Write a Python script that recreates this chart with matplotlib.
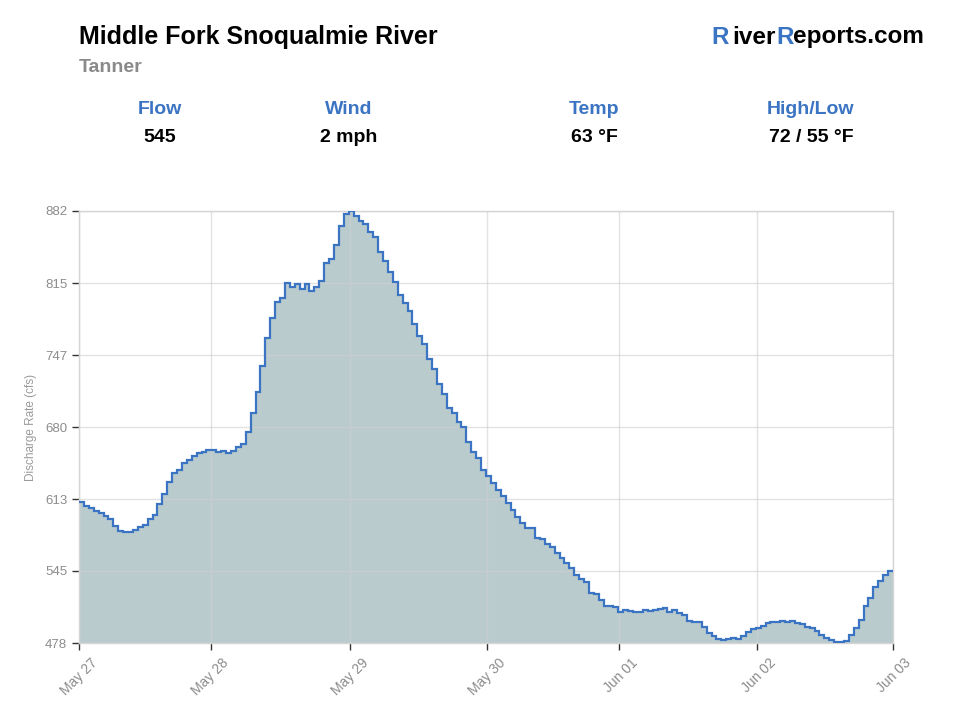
import matplotlib
matplotlib.use('Agg')
import matplotlib.pyplot as plt
import matplotlib.transforms as mtransforms
import numpy as np

plt.rcParams['font.family'] = ['Liberation Sans', 'DejaVu Sans']

# hourly discharge readings (cfs), May 27 -> Jun 03
flow = [609.6, 606.4, 604.3, 601.4, 599.3, 597.0, 594.3, 587.7, 582.7, 582.0,
        582.0, 583.7, 586.8, 588.6, 594.0, 597.5, 608.0, 617.0, 628.5, 637.3,
        639.8, 646.0, 649.1, 652.9, 656.0, 656.9, 658.5, 658.5, 656.9, 657.5,
        655.4, 658.0, 661.0, 664.1, 675.6, 693.4, 713.0, 737.4, 763.6, 782.3,
        796.6, 800.4, 814.4, 811.2, 813.7, 808.7, 813.7, 807.2, 810.6, 816.5,
        833.1, 836.8, 850.5, 868.3, 879.0, 882.0, 877.3, 873.0, 869.9, 862.1,
        857.4, 844.0, 835.2, 825.3, 815.9, 803.4, 795.7, 788.8, 776.0, 765.4,
        757.3, 743.3, 734.2, 720.0, 710.9, 698.1, 692.8, 684.5, 680.0, 666.3,
        656.9, 650.7, 639.8, 634.2, 628.0, 621.1, 615.5, 608.6, 602.4, 596.1,
        590.5, 585.7, 585.7, 576.6, 575.0, 570.9, 567.8, 561.9, 557.2, 552.5,
        547.8, 541.6, 537.9, 535.4, 524.5, 523.8, 518.2, 512.6, 512.6, 511.4,
        506.7, 508.9, 507.6, 507.3, 507.0, 508.9, 508.2, 508.9, 509.8, 511.0,
        506.7, 508.9, 506.4, 504.2, 498.9, 497.9, 497.9, 493.2, 487.6, 484.5,
        481.7, 480.8, 481.7, 482.7, 481.7, 484.5, 488.6, 491.1, 491.7, 494.2,
        496.5, 498.0, 497.5, 498.9, 497.9, 498.9, 497.0, 495.5, 493.3, 491.7,
        489.2, 485.5, 483.0, 480.8, 479.2, 479.2, 479.9, 485.5, 491.7, 499.5,
        512.9, 519.8, 530.7, 536.3, 541.6, 545.0]

total_hours = 168
tick_hours = [0, 27.2, 56, 84.3, 111.5, 140, 168]
tick_labels = ['May 27', 'May 28', 'May 29', 'May 30', 'Jun 01', 'Jun 02', 'Jun 03']
y_min, y_max = 478, 882

stat_names = ['Flow', 'Wind', 'Temp', 'High/Low']
stat_values = ['545', '2 mph', '63 °F', '72 / 55 °F']
stat_x = [160, 349, 594, 811]

blue = '#3a74c2'
W, H = 960, 720

fig = plt.figure(figsize=(9.6, 7.2), dpi=100)

# header
fig.text(79 / W, 1 - 37 / H, 'Middle Fork Snoqualmie River', fontsize=18,
         fontweight='bold', color='black', va='center', ha='left')
fig.text(79 / W, 1 - 68 / H, 'Tanner', fontsize=14, fontweight='bold',
         color='#8a8a8a', va='center', ha='left')

# RiverReports.com logo, built from pieces
pieces = [('R', blue, 0), ('iver', 'black', 3), ('R', blue, 0), ('eports.com', 'black', 0)]
prev = fig.text(711 / W, 1 - 37 / H, pieces[0][0], fontsize=17.5, fontweight='bold',
                color=pieces[0][1], va='center', ha='left')
for txt, col, gap in pieces[1:]:
    prev = fig.add_artist(plt.Annotation(txt, xy=(1, 0.5), xycoords=prev,
                                         xytext=(gap, 0), textcoords='offset points',
                                         fontsize=17.5, fontweight='bold', color=col,
                                         va='center', ha='left'))
for i in range(len(stat_names)):
    fig.text(stat_x[i] / W, 1 - 109 / H, stat_names[i], fontsize=14,
             fontweight='bold', color=blue, ha='center', va='center')
    fig.text(stat_x[i] / W, 1 - 137 / H, stat_values[i], fontsize=14,
             fontweight='bold', color='black', ha='center', va='center')

# chart
ax = fig.add_axes([79 / W, 1 - 643 / H, (893 - 79) / W, (643 - 211) / H])
edges = np.linspace(0, total_hours, len(flow) + 1)
ax.stairs(flow, edges, baseline=y_min, fill=True, color='#bacbcd', zorder=1)
ax.stairs(flow, edges, baseline=None, color=blue, linewidth=1.6, zorder=3)

ax.set_xlim(0, total_hours)
ax.set_ylim(y_min, y_max)
yt = np.linspace(y_min, y_max, 7)
ax.set_yticks(yt)
ax.set_yticklabels([str(int(round(v))) for v in yt])
ax.set_xticks(tick_hours)

ax.set_axisbelow('line')
ax.grid(True, color='#cfcfcf', alpha=0.6, linewidth=1)
for s in ax.spines.values():
    s.set_color('#d5d5d5')
    s.set_linewidth(1)
ax.tick_params(axis='both', colors='#333333', labelcolor='#8c8c8c',
               labelsize=9.5, length=5, width=1)
ax.tick_params(axis='x', labelsize=10)
ax.set_ylabel('Discharge Rate (cfs)', color='#9a9a9a', fontsize=8.5, labelpad=6)

# rotated date labels, nudged right like the original
ax.set_xticklabels(tick_labels, rotation=45, ha='right', rotation_mode='anchor')
offset = mtransforms.ScaledTranslation(11 / 100, -1 / 100, fig.dpi_scale_trans)
for lbl in ax.get_xticklabels():
    lbl.set_transform(lbl.get_transform() + offset)

plt.savefig('out.png', dpi=100)
